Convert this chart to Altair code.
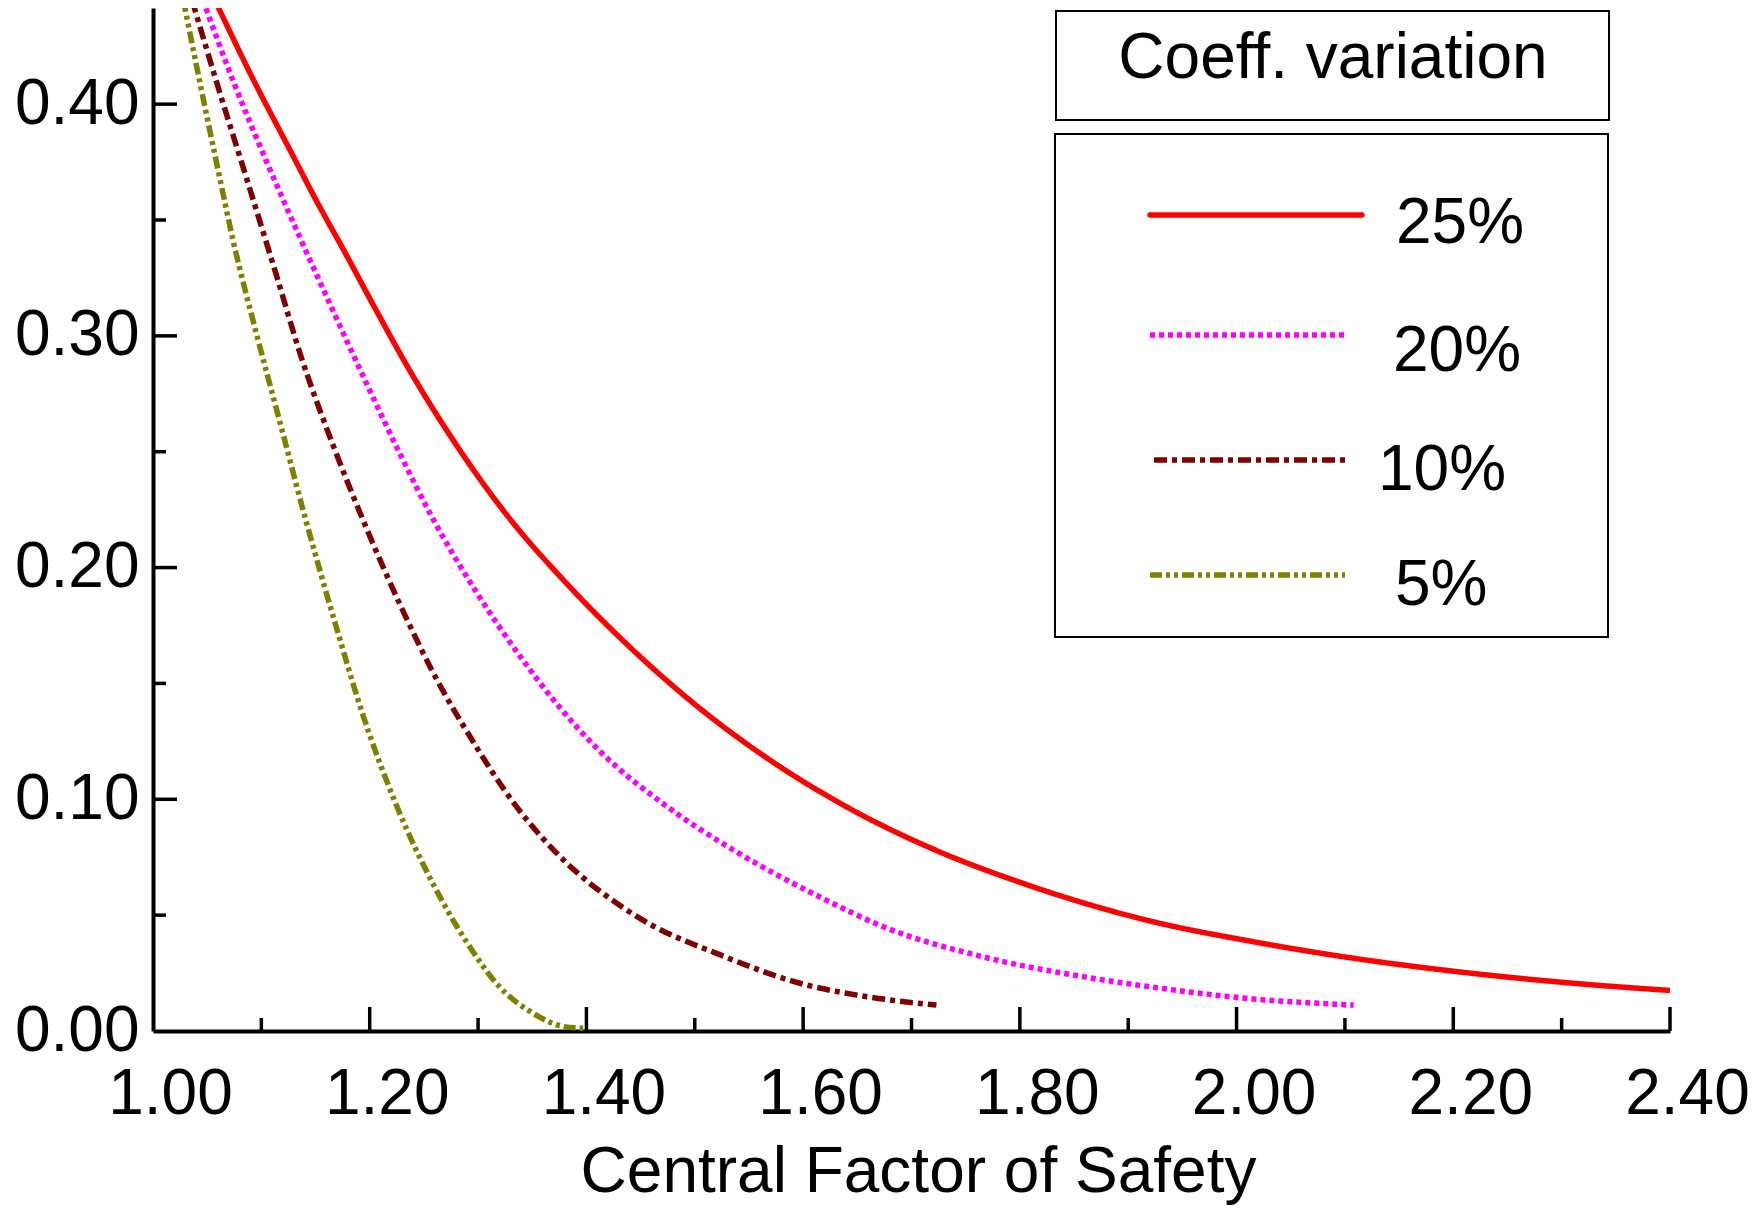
import altair as alt
import pandas as pd

# ---------------- data ----------------
series_labels = ["25%", "20%", "10%", "5%"]
series_colors = ["#FF0000", "#FF00FF", "#800000", "#808000"]
series_dashes = [[1, 0], [5, 4], [13, 5, 5, 5], [12, 4, 4, 4, 4, 4]]

x25 = [1.057, 1.090, 1.130, 1.150, 1.176, 1.206, 1.237, 1.277, 1.326, 1.382, 1.443,
       1.500, 1.566, 1.643, 1.720, 1.803, 1.920, 2.016, 2.098, 2.204, 2.311, 2.400]
y25 = [0.445, 0.413, 0.377, 0.359, 0.337, 0.311, 0.285, 0.255, 0.223, 0.193, 0.1644,
       0.141, 0.118, 0.0960, 0.0785, 0.0637, 0.0475, 0.0385, 0.0321, 0.0256,
       0.0206, 0.0175]

x20 = [1.046, 1.074, 1.105, 1.136, 1.166, 1.197, 1.228, 1.259, 1.299, 1.336, 1.373,
       1.413, 1.474, 1.536, 1.619, 1.674, 1.766, 1.859, 1.920, 2.009, 2.108]
y20 = [0.445, 0.410, 0.375, 0.342, 0.311, 0.2795, 0.249, 0.2205, 0.189, 0.1635, 0.141,
       0.1205, 0.097, 0.078, 0.057, 0.045, 0.032, 0.0234, 0.0191, 0.0141, 0.0112]

x10 = [1.036, 1.059, 1.087, 1.114, 1.136, 1.166, 1.197, 1.228, 1.265, 1.290, 1.336,
       1.382, 1.428, 1.459, 1.520, 1.597, 1.659, 1.723]
y10 = [0.445, 0.409, 0.367, 0.326, 0.292, 0.253, 0.217, 0.184, 0.149, 0.129, 0.0965,
       0.0724, 0.0551, 0.046, 0.0335, 0.0206, 0.0148, 0.0112]

x5 = [1.028, 1.043, 1.059, 1.074, 1.096, 1.117, 1.141, 1.170, 1.194, 1.225, 1.259,
      1.290, 1.320, 1.351, 1.379, 1.397]
y5 = [0.445, 0.410, 0.374, 0.341, 0.300, 0.263, 0.2205, 0.173, 0.136, 0.097, 0.063,
      0.038, 0.019, 0.0076, 0.0019, 0.0012]

series_x = [x25, x20, x10, x5]
series_y = [y25, y20, y10, y5]

x_label_values = [1.0, 1.2, 1.4, 1.6, 1.8, 2.0, 2.2, 2.4]
x_major_ticks = [1.2, 1.4, 1.6, 1.8, 2.0, 2.2, 2.4]
x_minor_ticks = [1.1, 1.3, 1.5, 1.7, 1.9, 2.1, 2.3]
y_label_values = [0.0, 0.1, 0.2, 0.3, 0.4]
y_major_ticks = [0.1, 0.2, 0.3, 0.4]
y_minor_ticks = [0.05, 0.15, 0.25, 0.35]

x_title = "Central Factor of Safety"
legend_title = "Coeff. variation"

# ---------------- layout / style ----------------
W, H = 1517, 1023
FONT = "Liberation Sans"
FS = 64
LW = 5.5

x_scale = alt.Scale(domain=[1.0, 2.4], nice=False, zero=False)
y_scale = alt.Scale(domain=[0.0, 0.4415], nice=False, zero=False)

x_axis = alt.Axis(
    values=x_label_values, format=".2f", labelFont=FONT, labelFontSize=FS,
    labelColor="black", labelPadding=31, labelOffset=17, ticks=False, tickSize=0,
    grid=False, domainColor="black", domainWidth=4, labelFlush=False,
    labelOverlap=False, title=x_title, titleFont=FONT, titleFontSize=FS,
    titleFontWeight="normal", titleColor="black", titleY=160,
    titleBaseline="alphabetic", titleX=765,
)
y_axis = alt.Axis(
    values=y_label_values, format=".2f", labelFont=FONT, labelFontSize=FS,
    labelColor="black", labelPadding=14, ticks=False, tickSize=0, grid=False,
    domainColor="black", domainWidth=4, labelFlush=False, labelOverlap=False,
    title=None,
)

X = lambda f: alt.X(f, type="quantitative", scale=x_scale, axis=x_axis)
Y = lambda f: alt.Y(f, type="quantitative", scale=y_scale, axis=y_axis)

layers = []

# curves
for lab, col, dash, xs, ys in zip(series_labels, series_colors, series_dashes,
                                   series_x, series_y):
    df = pd.DataFrame({"x": xs, "y": ys, "series": lab})
    layers.append(
        alt.Chart(df).mark_line(color=col, strokeDash=dash, strokeWidth=LW,
                                interpolate="monotone", clip=True,
                                strokeCap="butt")
        .encode(x=X("x"), y=Y("y"))
    )

# inward ticks
tick_w = 3.5
layers.append(alt.Chart(pd.DataFrame({"v": x_major_ticks})).mark_rule(
    color="black", strokeWidth=tick_w).encode(
    x=X("v"), y=alt.value(H), y2=alt.value(H - 24)))
layers.append(alt.Chart(pd.DataFrame({"v": x_minor_ticks})).mark_rule(
    color="black", strokeWidth=tick_w).encode(
    x=X("v"), y=alt.value(H), y2=alt.value(H - 13)))
layers.append(alt.Chart(pd.DataFrame({"v": y_major_ticks})).mark_rule(
    color="black", strokeWidth=tick_w).encode(
    y=Y("v"), x=alt.value(0), x2=alt.value(24)))
layers.append(alt.Chart(pd.DataFrame({"v": y_minor_ticks})).mark_rule(
    color="black", strokeWidth=tick_w).encode(
    y=Y("v"), x=alt.value(0), x2=alt.value(13)))

# legend: title box + entries box
one = pd.DataFrame({"k": [0]})
layers.append(alt.Chart(one).mark_rect(fill="white", stroke="black", strokeWidth=2).encode(
    x=alt.value(903), x2=alt.value(1456), y=alt.value(3), y2=alt.value(112)))
layers.append(alt.Chart(one).mark_rect(fill="white", stroke="black", strokeWidth=2).encode(
    x=alt.value(902), x2=alt.value(1455), y=alt.value(126), y2=alt.value(629)))
layers.append(alt.Chart(pd.DataFrame({"t": [legend_title]})).mark_text(
    font=FONT, fontSize=FS, align="center", baseline="alphabetic", color="black").encode(
    x=alt.value(1180), y=alt.value(70), text="t:N"))

row_y = [207, 327, 452, 567]
row_x1 = [997, 997, 1001, 997]
row_x2 = [1209, 1192, 1196, 1192]
text_x = [1243, 1240, 1225, 1242]
text_y = [235, 363, 482, 597]
for i, (lab, col, dash) in enumerate(zip(series_labels, series_colors, series_dashes)):
    d = pd.DataFrame({"label": [lab]})
    layers.append(alt.Chart(d).mark_rule(
        color=col, strokeDash=dash, strokeWidth=LW,
        strokeCap="round" if i == 0 else "butt").encode(
        x=alt.value(row_x1[i]), x2=alt.value(row_x2[i]), y=alt.value(row_y[i])))
    layers.append(alt.Chart(d).mark_text(
        font=FONT, fontSize=FS, align="left", baseline="alphabetic", color="black").encode(
        x=alt.value(text_x[i]), y=alt.value(text_y[i]), text="label:N"))

chart = alt.layer(*layers).properties(
    width=W, height=H,
    autosize=alt.AutoSizeParams(type="none"),
    padding={"left": 145, "top": 0, "right": 84, "bottom": 176},
    background="white",
).configure_view(stroke=None)

chart.save("out.html", embed_options={"renderer": "svg", "actions": False})
